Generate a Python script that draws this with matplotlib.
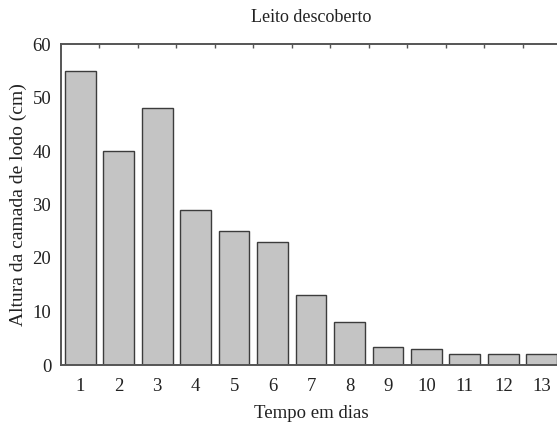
import matplotlib.pyplot as plt
import numpy as np

# ----------------------------------------------------------------------------
# Data

days = list(range(1, 14))
heights = [55, 40, 48, 29, 25, 23, 13, 8, 3.3, 3, 2, 2, 2]
y_ticks = [0, 10, 20, 30, 40, 50, 60]

# ----------------------------------------------------------------------------
# Plot

plt.rcParams['font.family'] = ['Liberation Serif', 'DejaVu Serif']

fig = plt.figure(figsize=(5.57, 4.24), dpi=100)
# left spine ~61px, top ~44px, bottom ~365px; right edge runs off the image
ax = fig.add_axes([61 / 557, (424 - 365) / 424, 500 / 557, 321 / 424])

ax.bar(days, heights, width=0.8, color='#c4c4c4', edgecolor='#3c3c3c',
       linewidth=1.0, zorder=2)

ax.set_xlim(0.5, 13.5)
ax.set_ylim(0, 60)
ax.set_yticks(y_ticks)
ax.set_xticks(days)

# inward ticks on the top spine, between bars
top = ax.secondary_xaxis('top')
top.set_xticks(np.arange(1.5, 13.5, 1.0))
top.tick_params(direction='in', length=3, width=1, color='#555555',
                labeltop=False)
top.spines['top'].set_visible(False)

ax.tick_params(axis='both', length=0, labelsize=13.5, colors='#222222')
ax.tick_params(axis='x', pad=9.5)
ax.tick_params(axis='y', pad=7)

for side in ['left', 'bottom', 'top']:
    ax.spines[side].set_color('#555555')
    ax.spines[side].set_linewidth(1.4)
ax.spines['right'].set_visible(False)

ax.set_title('Leito descoberto', fontsize=13, pad=15.5, color='#222222')
ax.set_xlabel('Tempo em dias', fontsize=13.5, labelpad=7, color='#222222')
ax.set_ylabel('Altura da camada de lodo (cm)', fontsize=14, labelpad=4,
              color='#222222')

fig.savefig('out.png', dpi=100)
